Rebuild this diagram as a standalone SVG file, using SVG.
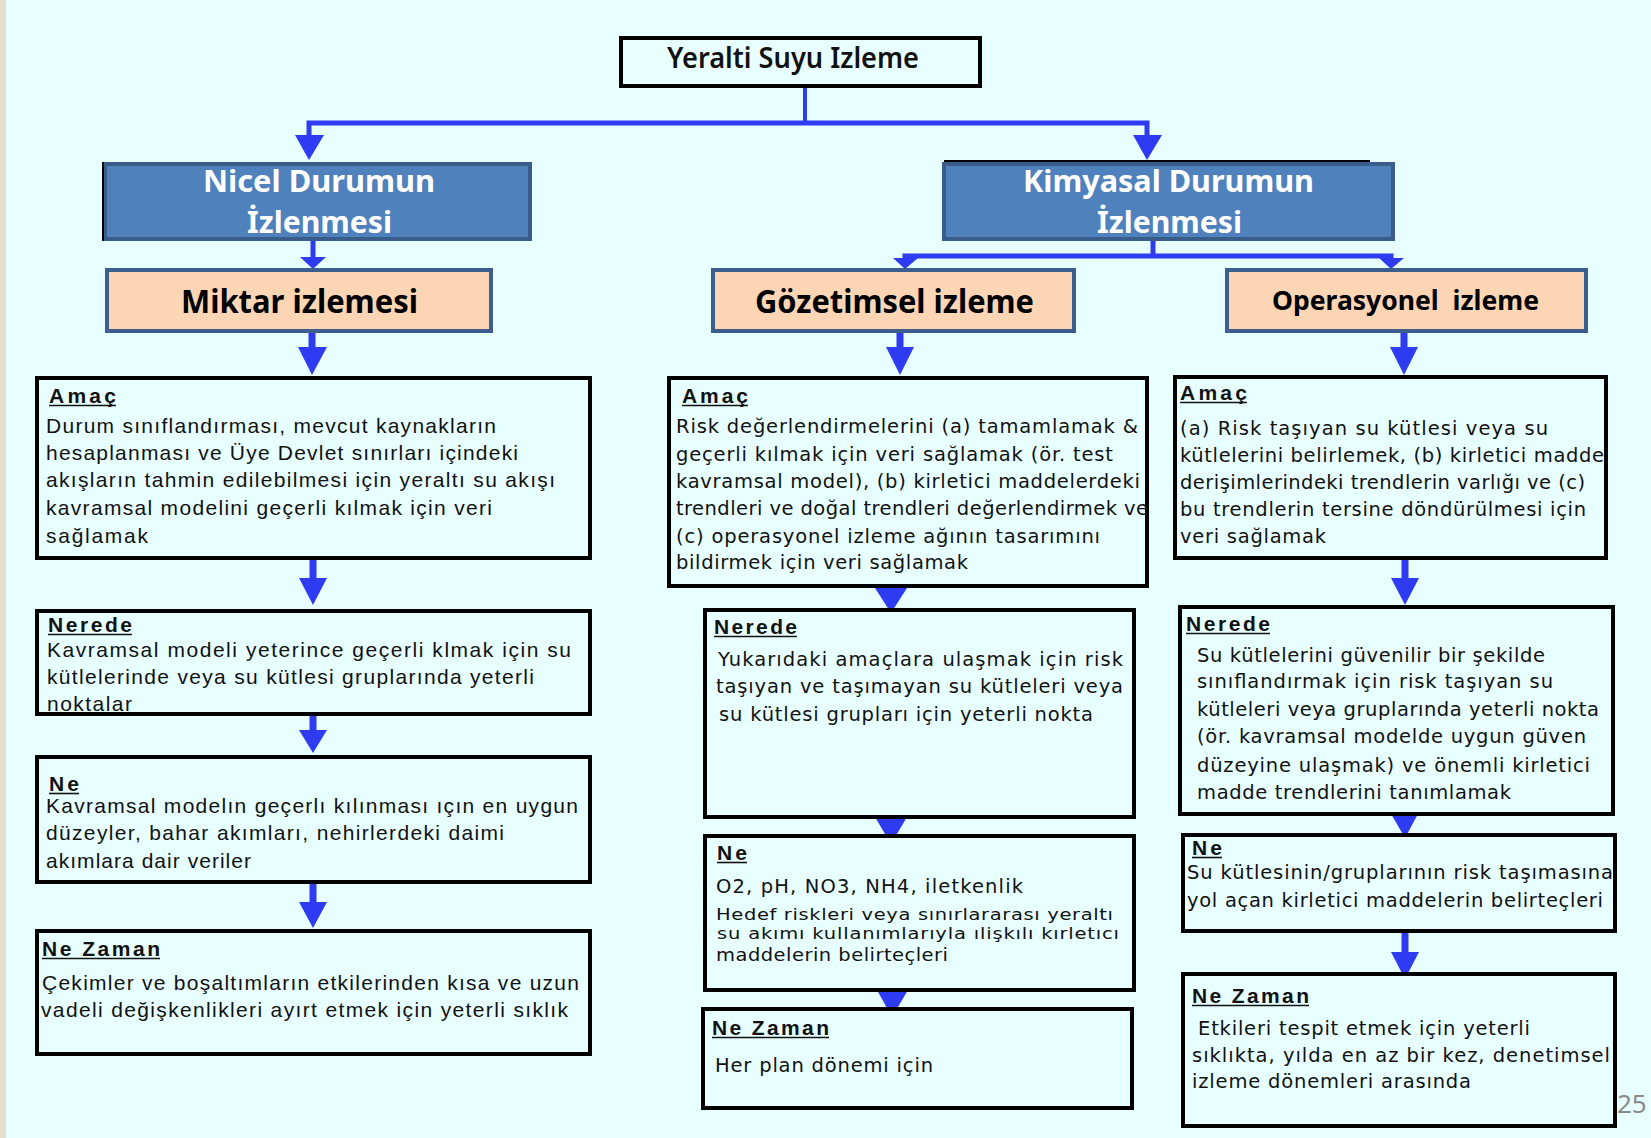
<svg xmlns="http://www.w3.org/2000/svg" width="1651" height="1138" viewBox="0 0 1651 1138">
  <style>
    .box { fill: #E8FFFF; stroke: #000; stroke-width: 4; }
    .blue { fill: #4F81BD; stroke: #385D8A; stroke-width: 4; }
    .peach { fill: #FCD5B4; stroke: #3B5E8C; stroke-width: 4; }
    .head { fill: #2E3BF0; }
    .wire { fill: none; stroke: #2E3BF0; stroke-width: 5; }
    .shaft { fill: none; stroke: #2E3BF0; stroke-width: 7; }
    .a { font-family: "Liberation Sans", Arial, sans-serif; font-size: 21px; fill: #111; }
    .v { font-family: "DejaVu Sans", Verdana, sans-serif; font-size: 19.5px; fill: #111; }
    .h { font-family: "Liberation Sans", Arial, sans-serif; font-size: 21px; font-weight: bold; fill: #111; }
    .ul { stroke: #111; stroke-width: 1.6; }
    .ttl { font-family: "Noto Sans", "Open Sans", sans-serif; font-weight: bold; }
  </style>

  <!-- page -->
  <rect x="0" y="0" width="1651" height="1138" fill="#E8FFFF"/>
  <rect x="0" y="0" width="6" height="1138" fill="#E4DFCB"/>

  <!-- connectors -->
  <g id="connectors">
    <path class="wire" d="M805 88 V123" style="stroke-width:4"/>
    <path class="wire" d="M309 141 V123 H1147 V141"/>
    <polygon class="head" points="295,135 324,135 309,160"/>
    <polygon class="head" points="1133,135 1162,135 1147,160"/>

    <path class="wire" d="M313 241 V262"/>
    <polygon class="head" points="300,257 326,257 313,269"/>

    <path class="wire" d="M1153 241 V256"/>
    <path class="wire" d="M905 263 V256 H1391 V263"/>
    <polygon class="head" points="893,258 918,258 905,269"/>
    <polygon class="head" points="1379,258 1404,258 1391,269"/>

    <path class="shaft" d="M312 333 V352"/>
    <polygon class="head" points="298,347 327,347 312,375"/>
    <path class="shaft" d="M900 333 V352"/>
    <polygon class="head" points="886,347 914,347 900,375"/>
    <path class="shaft" d="M1404 333 V352"/>
    <polygon class="head" points="1390,347 1418,347 1404,375"/>

    <path class="shaft" d="M313 560 V582"/>
    <polygon class="head" points="299,578 327,578 313,605"/>
    <path class="shaft" d="M313 716 V734"/>
    <polygon class="head" points="299,730 327,730 313,753"/>
    <path class="shaft" d="M313 884 V905"/>
    <polygon class="head" points="299,902 327,902 313,928"/>

    <polygon class="head" points="875,588 907,588 891,613"/>
    <polygon class="head" points="875,817 907,817 891,844"/>
    <polygon class="head" points="877,990 908,990 892,1017"/>

    <path class="shaft" d="M1405 560 V582"/>
    <polygon class="head" points="1391,578 1419,578 1405,605"/>
    <polygon class="head" points="1390,812 1419,812 1405,838"/>
    <path class="shaft" d="M1405 933 V956"/>
    <polygon class="head" points="1391,952 1419,952 1405,979"/>
  </g>

  <!-- top level -->
  <g id="root">
    <rect class="box" x="621" y="38" width="359" height="48"/>
    <text class="ttl" x="667" y="68" font-size="28" fill="#111" style="font-weight:600" textLength="252" lengthAdjust="spacingAndGlyphs">Yeralti Suyu Izleme</text>
  </g>

  <g id="nicel">
    <rect class="blue" x="105" y="164" width="425" height="75"/>
    <line x1="103" y1="162" x2="103" y2="241" stroke="#000" stroke-width="2"/>
    <text class="ttl" x="203" y="192" font-size="30" fill="#fff" textLength="232" lengthAdjust="spacingAndGlyphs">Nicel Durumun</text>
    <text class="ttl" x="247" y="233" font-size="30" fill="#fff" textLength="145" lengthAdjust="spacingAndGlyphs">İzlenmesi</text>
  </g>

  <g id="kimyasal">
    <rect class="blue" x="944" y="164" width="449" height="75"/>
    <line x1="944" y1="161" x2="1370" y2="161" stroke="#000" stroke-width="2"/>
    <text class="ttl" x="1023" y="192" font-size="30" fill="#fff" textLength="291" lengthAdjust="spacingAndGlyphs">Kimyasal Durumun</text>
    <text class="ttl" x="1097" y="233" font-size="30" fill="#fff" textLength="145" lengthAdjust="spacingAndGlyphs">İzlenmesi</text>
  </g>

  <g id="miktar">
    <rect class="peach" x="107" y="270" width="384" height="61"/>
    <text class="ttl" x="181" y="313" font-size="32" fill="#000" textLength="237" lengthAdjust="spacingAndGlyphs">Miktar izlemesi</text>
  </g>

  <g id="gozetimsel">
    <rect class="peach" x="713" y="270" width="361" height="61"/>
    <text class="ttl" x="755" y="313" font-size="32" fill="#000" textLength="279" lengthAdjust="spacingAndGlyphs">Gözetimsel izleme</text>
  </g>

  <g id="operasyonel">
    <rect class="peach" x="1227" y="270" width="359" height="61"/>
    <text class="ttl" x="1272" y="310" font-size="27" fill="#000" style="white-space:pre" textLength="267" lengthAdjust="spacingAndGlyphs">Operasyonel  izleme</text>
  </g>

  <!-- quantity column -->
  <g id="miktar-amac">
    <rect class="box" x="37" y="378" width="553" height="180"/>
    <text class="h" x="49" y="403" textLength="67">Amaç</text>
    <line class="ul" x1="49" y1="405.5" x2="116" y2="405.5"/>
    <text class="a" x="46" y="433" textLength="450">Durum sınıflandırması, mevcut kaynakların</text>
    <text class="a" x="46" y="460" textLength="472">hesaplanması ve Üye Devlet sınırları içindeki</text>
    <text class="a" x="46" y="487" textLength="509">akışların tahmin edilebilmesi için yeraltı su akışı</text>
    <text class="a" x="46" y="515" textLength="446">kavramsal modelini geçerli kılmak için veri</text>
    <text class="a" x="46" y="543" textLength="102">sağlamak</text>
  </g>

  <g id="miktar-nerede">
    <rect class="box" x="37" y="611" width="553" height="103"/>
    <text class="h" x="48" y="632" textLength="84">Nerede</text>
    <line class="ul" x1="48" y1="634.5" x2="132" y2="634.5"/>
    <text class="a" x="47" y="657" textLength="524">Kavramsal modeli yeterince geçerli klmak için su</text>
    <text class="a" x="47" y="684" textLength="487">kütlelerinde veya su kütlesi gruplarında yeterli</text>
    <text class="a" x="47" y="711" textLength="85">noktalar</text>
  </g>

  <g id="miktar-ne">
    <rect class="box" x="37" y="757" width="553" height="125"/>
    <text class="h" x="49" y="791" textLength="30">Ne</text>
    <line class="ul" x1="49" y1="793.5" x2="79" y2="793.5"/>
    <text class="a" x="46" y="813" textLength="532">Kavramsal modelın geçerlı kılınması ıçın en uygun</text>
    <text class="a" x="46" y="840" textLength="458">düzeyler, bahar akımları, nehirlerdeki daimi</text>
    <text class="a" x="46" y="868" textLength="205">akımlara dair veriler</text>
  </g>

  <g id="miktar-ne-zaman">
    <rect class="box" x="37" y="931" width="553" height="123"/>
    <text class="h" x="42" y="956" textLength="118">Ne Zaman</text>
    <line class="ul" x1="42" y1="958.5" x2="160" y2="958.5"/>
    <text class="a" x="42" y="990" textLength="537">Çekimler ve boşaltımların etkilerinden kısa ve uzun</text>
    <text class="a" x="41" y="1017" textLength="527">vadeli değişkenlikleri ayırt etmek için yeterli sıklık</text>
  </g>

  <!-- surveillance column -->
  <g id="gozetimsel-amac">
    <rect class="box" x="669" y="378" width="478" height="208"/>
    <text class="h" x="682" y="403" textLength="66">Amaç</text>
    <line class="ul" x1="682" y1="405.5" x2="748" y2="405.5"/>
    <text class="v" x="676" y="433" textLength="462">Risk değerlendirmelerini (a) tamamlamak &amp;</text>
    <text class="v" x="676" y="461" textLength="437">geçerli kılmak için veri sağlamak (ör. test</text>
    <text class="v" x="676" y="488" textLength="464">kavramsal model), (b) kirletici maddelerdeki</text>
    <text class="v" x="676" y="515" textLength="472">trendleri ve doğal trendleri değerlendirmek ve</text>
    <text class="v" x="676" y="543" textLength="424">(c) operasyonel izleme ağının tasarımını</text>
    <text class="v" x="676" y="569" textLength="292">bildirmek için veri sağlamak</text>
  </g>

  <g id="gozetimsel-nerede">
    <rect class="box" x="705" y="610" width="429" height="207"/>
    <text class="h" x="714" y="634" textLength="83">Nerede</text>
    <line class="ul" x1="714" y1="636.5" x2="797" y2="636.5"/>
    <text class="v" x="718" y="666" textLength="405">Yukarıdaki amaçlara ulaşmak için risk</text>
    <text class="v" x="716" y="693" textLength="407">taşıyan ve taşımayan su kütleleri veya</text>
    <text class="v" x="719" y="721" textLength="374">su kütlesi grupları için yeterli nokta</text>
  </g>

  <g id="gozetimsel-ne">
    <rect class="box" x="705" y="836" width="429" height="154"/>
    <text class="h" x="717" y="860" textLength="30">Ne</text>
    <line class="ul" x1="717" y1="862.5" x2="747" y2="862.5"/>
    <text class="v" x="716" y="893" textLength="307">O2, pH, NO3, NH4, iletkenlik</text>
    <text class="v" transform="translate(716 920) scale(1 0.85)" textLength="397">Hedef riskleri veya sınırlararası yeraltı</text>
    <text class="v" transform="translate(717 939) scale(1 0.8)" textLength="402">su akımı kullanımlarıyla ılişkılı kırletıcı</text>
    <text class="v" transform="translate(716 961) scale(1 0.9)" textLength="232">maddelerin belirteçleri</text>
  </g>

  <g id="gozetimsel-ne-zaman">
    <rect class="box" x="703" y="1009" width="429" height="99"/>
    <text class="h" x="712" y="1035" textLength="117">Ne Zaman</text>
    <line class="ul" x1="712" y1="1037.5" x2="829" y2="1037.5"/>
    <text class="v" x="715" y="1072" textLength="218">Her plan dönemi için</text>
  </g>

  <!-- operational column -->
  <g id="operasyonel-amac">
    <rect class="box" x="1175" y="377" width="431" height="181"/>
    <text class="h" x="1180" y="400" textLength="67">Amaç</text>
    <line class="ul" x1="1180" y1="402.5" x2="1247" y2="402.5"/>
    <text class="v" x="1180" y="435" textLength="368">(a) Risk taşıyan su kütlesi veya su</text>
    <text class="v" x="1180" y="462" textLength="424">kütlelerini belirlemek, (b) kirletici madde</text>
    <text class="v" x="1180" y="489" textLength="405">derişimlerindeki trendlerin varlığı ve (c)</text>
    <text class="v" x="1180" y="516" textLength="406">bu trendlerin tersine döndürülmesi için</text>
    <text class="v" x="1180" y="543" textLength="146">veri sağlamak</text>
  </g>

  <g id="operasyonel-nerede">
    <rect class="box" x="1180" y="607" width="433" height="207"/>
    <text class="h" x="1186" y="631" textLength="84">Nerede</text>
    <line class="ul" x1="1186" y1="633.5" x2="1270" y2="633.5"/>
    <text class="v" x="1197" y="662" textLength="348">Su kütlelerini güvenilir bir şekilde</text>
    <text class="v" x="1197" y="688" textLength="356">sınıflandırmak için risk taşıyan su</text>
    <text class="v" x="1197" y="716" textLength="402">kütleleri veya gruplarında yeterli nokta</text>
    <text class="v" x="1197" y="743" textLength="389">(ör. kavramsal modelde uygun güven</text>
    <text class="v" x="1197" y="772" textLength="393">düzeyine ulaşmak) ve önemli kirletici</text>
    <text class="v" x="1197" y="799" textLength="314">madde trendlerini tanımlamak</text>
  </g>

  <g id="operasyonel-ne">
    <rect class="box" x="1183" y="835" width="432" height="96"/>
    <text class="h" x="1192" y="855" textLength="30">Ne</text>
    <line class="ul" x1="1192" y1="857.5" x2="1222" y2="857.5"/>
    <text class="v" x="1187" y="879" textLength="426">Su kütlesinin/gruplarının risk taşımasına</text>
    <text class="v" x="1187" y="907" textLength="416">yol açan kirletici maddelerin belirteçleri</text>
  </g>

  <g id="operasyonel-ne-zaman">
    <rect class="box" x="1183" y="974" width="432" height="152"/>
    <text class="h" x="1192" y="1003" textLength="117">Ne Zaman</text>
    <line class="ul" x1="1192" y1="1005.5" x2="1309" y2="1005.5"/>
    <text class="v" x="1198" y="1035" textLength="332">Etkileri tespit etmek için yeterli</text>
    <text class="v" x="1192" y="1062" textLength="418">sıklıkta, yılda en az bir kez, denetimsel</text>
    <text class="v" x="1192" y="1088" textLength="279">izleme dönemleri arasında</text>
  </g>

  <text x="1617" y="1113" font-family="Noto Sans, sans-serif" font-size="26" fill="#8A8A8A">25</text>
</svg>
